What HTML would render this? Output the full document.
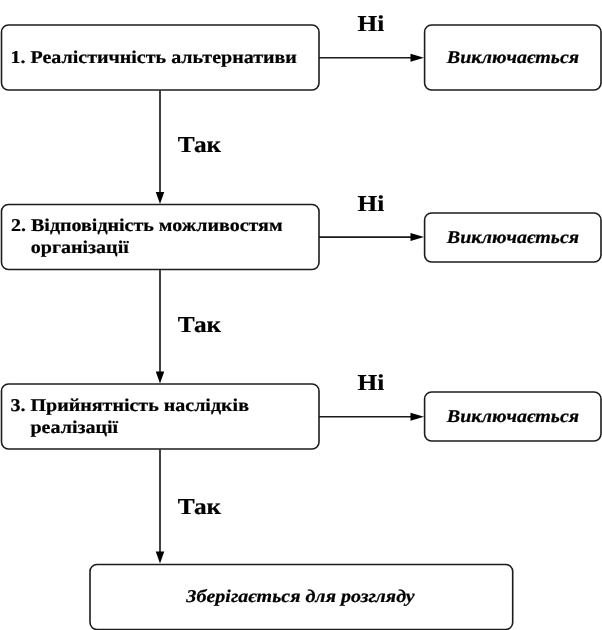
<!DOCTYPE html>
<html><head><meta charset="utf-8">
<style>
html,body{margin:0;padding:0;background:#fff;width:602px;height:630px;overflow:hidden}
svg{display:block;will-change:transform}
text{font-family:"Liberation Serif",serif;font-weight:bold;fill:#000;text-rendering:geometricPrecision;stroke:#000;stroke-width:0.25}
.b{fill:none;stroke:#1c1c1c;stroke-width:1.6}
.l{stroke:#1a1a1a;stroke-width:1.6;fill:none}
.v{stroke:#383838;stroke-width:1.9;fill:none}
.h{fill:#000}
.t{font-size:20.0px}
.i{font-size:20.0px;font-style:italic}
.k{font-size:25.3px}
</style></head><body>
<svg width="602" height="630" viewBox="0 0 602 630">
<rect class="b" x="1.5" y="25" width="317.5" height="65" rx="7"/>
<rect class="b" x="1.5" y="204.5" width="317.5" height="65" rx="7"/>
<rect class="b" x="1.5" y="384" width="317.5" height="65" rx="7"/>
<rect class="b" x="90" y="564.5" width="422.7" height="65" rx="7"/>
<rect class="b" x="424.6" y="25" width="176.4" height="65" rx="7"/>
<rect class="b" x="424.6" y="213" width="176.4" height="49" rx="7"/>
<rect class="b" x="424.6" y="392" width="176.4" height="49" rx="7"/>
<path class="l" d="M319 57.7H412M319 237.1H412M319 416.8H412"/>
<path class="h" d="M424 57.7L410.5 53.7L410.5 61.7Z M424 237.1L410.5 233.1L410.5 241.1Z M424 416.8L410.5 412.8L410.5 420.8Z"/>
<path class="v" d="M160 90V193M160 269.5V372M160 449V552"/>
<path class="h" d="M160 204L155.75 192L164.25 192Z M160 383.5L155.75 371.5L164.25 371.5Z M160 563.5L155.75 551.5L164.25 551.5Z"/>
<text class="t" transform="translate(10.5,62.9) scale(1,0.9)">1. Реалістичність альтернативи</text>
<text class="t" transform="translate(11,231.3) scale(1,0.9)">2. Відповідність можливостям</text>
<text class="t" transform="translate(30.8,252.5) scale(1,0.9)">організації</text>
<text class="t" transform="translate(10.5,411.3) scale(1,0.9)">3. Прийнятність наслідків</text>
<text class="t" transform="translate(30.5,432.5) scale(1,0.9)">реалізації</text>
<text class="i" transform="translate(446.8,63) scale(1,0.9)">Виключається</text>
<text class="i" transform="translate(446.8,242.5) scale(1,0.9)">Виключається</text>
<text class="i" transform="translate(446.8,422.1) scale(1,0.9)">Виключається</text>
<text class="i" transform="translate(186.3,602) scale(1,0.9)">Зберігається для розгляду</text>
<text class="k" transform="translate(177.7,151.9) scale(1,0.9)">Так</text>
<text class="k" transform="translate(177.7,331.7) scale(1,0.9)">Так</text>
<text class="k" transform="translate(177.7,514.4) scale(1,0.9)">Так</text>
<text class="k" transform="translate(357.5,31.4) scale(1,0.9)">Ні</text>
<text class="k" transform="translate(357.5,210.6) scale(1,0.9)">Ні</text>
<text class="k" transform="translate(357.5,390.2) scale(1,0.9)">Ні</text>
</svg>
</body></html>
